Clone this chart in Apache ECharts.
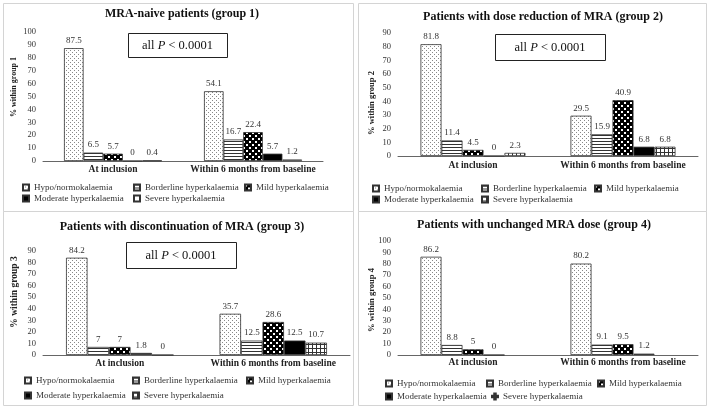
<!DOCTYPE html>
<html><head><meta charset="utf-8">
<script src="https://cdn.jsdelivr.net/npm/echarts@6/dist/echarts.min.js"></script>
<style>html,body{margin:0;padding:0;background:#fff}#c{width:709px;height:408px}</style>
</head><body><div id="c"></div>
<script>
// ---- data ----
const categories = ['At inclusion', 'Within 6 months from baseline'];
const seriesNames = ['Hypo/normokalaemia', 'Borderline hyperkalaemia', 'Mild hyperkalaemia', 'Moderate hyperkalaemia', 'Severe hyperkalaemia'];
const panelTitles = ['MRA-naive patients (group 1)', 'Patients with dose reduction of MRA (group 2)', 'Patients with discontinuation of MRA (group 3)', 'Patients with unchanged MRA dose (group 4)'];
const yAxisNames = ['% within group 1', '% within group 2', '% within group 3', '% within group 4'];
const yMax = [100, 90, 90, 100];
const pValueText = 'all P < 0.0001';

const group1AtInclusion = [87.5, 6.5, 5.7, 0, 0.4];
const group1Within6Months = [54.1, 16.7, 22.4, 5.7, 1.2];
const group2AtInclusion = [81.8, 11.4, 4.5, 0, 2.3];
const group2Within6Months = [29.5, 15.9, 40.9, 6.8, 6.8];
const group3AtInclusion = [84.2, 7, 7, 1.8, 0];
const group3Within6Months = [35.7, 12.5, 28.6, 12.5, 10.7];
const group4AtInclusion = [86.2, 8.8, 5, 0, null];
const group4Within6Months = [80.2, 9.1, 9.5, 1.2, null];

const groupAtInclusion = [group1AtInclusion, group2AtInclusion, group3AtInclusion, group4AtInclusion];
const groupWithin = [group1Within6Months, group2Within6Months, group3Within6Months, group4Within6Months];

// ---- styles / layout ----
const FONT = "'Liberation Serif', 'Times New Roman', serif";
function pat(w, h, draw) {
  const c = document.createElement('canvas'); c.width = w; c.height = h;
  const x = c.getContext('2d'); draw(x); return { image: c, repeat: 'repeat' };
}
const hypoFill = pat(4, 4, x => { x.fillStyle = '#fff'; x.fillRect(0,0,4,4); x.fillStyle = '#888'; x.fillRect(0,0,1,1); x.fillRect(2,2,1,1); });
const borderFill = pat(4, 3, x => { x.fillStyle = '#fff'; x.fillRect(0,0,4,3); x.fillStyle = '#333'; x.fillRect(0,0,4,1); });
const mildFill = pat(6, 6, x => { x.fillStyle = '#000'; x.fillRect(0,0,6,6); x.fillStyle = '#fff'; x.fillRect(0,0,2,2); x.fillRect(3,3,2,2); });
const gridFill = pat(4, 4, x => { x.fillStyle = '#fff'; x.fillRect(0,0,4,4); x.fillStyle = '#333'; x.fillRect(0,0,4,1); x.fillRect(0,0,1,4); });
const fills = [
  [hypoFill, borderFill, mildFill, '#000', '#fff'],
  [hypoFill, borderFill, mildFill, '#000', gridFill],
  [hypoFill, borderFill, mildFill, '#000', gridFill],
  [hypoFill, borderFill, mildFill, '#000', '#555']
];
const layout = [
  { grid: {left: 43, right: 386, top: 32, bottom: 247}, titleX: 182, titleY: 14, yName: [14, 87, 8], lblMargin: 4, pbox: [128, 33, 99, 24],
    cols: [22, 133, 244], cols2: [22, 133], rows: [189, 200], frame: [3, 3, 350, 208] },
  { grid: {left: 398, right: 11, top: 33, bottom: 252}, titleX: 543, titleY: 17, yName: [372, 103, 8.5], lblMargin: 5, pbox: [495, 34, 110, 26],
    cols: [372, 481, 594], cols2: [372, 481], rows: [190, 201], frame: [358, 3, 348, 208] },
  { grid: {left: 43, right: 359, top: 251, bottom: 53}, titleX: 182, titleY: 227, yName: [15, 292, 9.5], lblMargin: 4, pbox: [126, 242, 110, 26],
    cols: [24, 132, 246], cols2: [24, 132], rows: [382, 397], frame: [3, 211, 350, 194] },
  { grid: {left: 398, right: 11, top: 241, bottom: 53}, titleX: 534, titleY: 225, yName: [372, 300, 8.5], lblMargin: 3, pbox: null,
    cols: [385, 486, 597], cols2: [385, 491], rows: [385, 398], frame: [358, 211, 348, 194] }
];

const grids = [], xAxes = [], yAxes = [], series = [], legends = [], graphics = [];
layout.forEach((L, p) => {
  grids.push(L.grid);
  xAxes.push({
    type: 'category', gridIndex: p, data: categories,
    axisLine: { lineStyle: { color: '#666', width: 1 } }, axisTick: { show: false },
    axisLabel: { interval: 0, fontFamily: FONT, fontSize: 9.5, fontWeight: 'bold', color: '#222', margin: L.lblMargin }
  });
  yAxes.push({
    type: 'value', gridIndex: p, min: 0, max: yMax[p], interval: 10,
    axisLine: { show: false }, axisTick: { show: false }, splitLine: { show: false },
    axisLabel: { fontFamily: FONT, fontSize: 8.5, color: '#333', margin: 7 }
  });
  seriesNames.forEach((nm, k) => {
    const uname = (p + 1) + '|' + nm;
    series.push({
      type: 'bar', name: uname, xAxisIndex: p, yAxisIndex: p,
      data: [groupAtInclusion[p][k], groupWithin[p][k]],
      barGap: '0%', barCategoryGap: '30%',
      itemStyle: { color: fills[p][k], borderColor: '#333', borderWidth: 0.8 },
      label: { show: true, position: 'top', distance: 3, fontFamily: FONT, fontSize: 9, color: '#333' }
    });
    const left = k < 3 ? L.cols[k] : L.cols2[k - 3];
    const row = k < 3 ? 0 : 1;
    const item = { name: uname };
    if (p === 3 && k === 4) item.icon = 'path://M3,0h2v3h3v2h-3v3h-2v-3h-3v-2h3z';
    legends.push({
      data: [item], left: left, top: L.rows[row] - 6, itemWidth: 6, itemHeight: 6,
      padding: 0, itemGap: 0, selectedMode: false, icon: 'rect',
      formatter: n => n.split('|')[1],
      textStyle: { fontFamily: FONT, fontSize: 9, color: '#333' }
    });
  });
  graphics.push({ type: 'rect', silent: true, shape: { x: L.frame[0] + 0.5, y: L.frame[1] + 0.5, width: L.frame[2], height: L.frame[3] }, style: { fill: 'none', stroke: '#d4d4d4', lineWidth: 1 } });
  graphics.push({ type: 'text', silent: true, x: L.titleX, y: L.titleY, style: { text: panelTitles[p], font: 'bold 12px ' + FONT, fill: '#111', align: 'center', verticalAlign: 'middle' } });
  graphics.push({ type: 'text', silent: true, x: L.yName[0], y: L.yName[1], rotation: Math.PI / 2,
    style: { text: yAxisNames[p], font: 'bold ' + L.yName[2] + 'px ' + FONT, fill: '#222', align: 'center', verticalAlign: 'middle' } });
  if (L.pbox) {
    const b = L.pbox;
    graphics.push({ type: 'rect', silent: true, shape: { x: b[0] + 0.5, y: b[1] + 0.5, width: b[2], height: b[3] }, style: { fill: '#fff', stroke: '#222', lineWidth: 1 } });
    const parts = pValueText.split('P');
    graphics.push({ type: 'text', silent: true, x: b[0] + b[2] / 2, y: b[1] + b[3] / 2 + 1,
      style: { text: '{a|' + parts[0] + '}{i|P}{a|' + parts[1] + '}', align: 'center', verticalAlign: 'middle',
        rich: { a: { fontFamily: FONT, fontSize: 12.5, fill: '#111' }, i: { fontFamily: FONT, fontSize: 12.5, fontStyle: 'italic', fill: '#111' } } } });
  }
});

const chart = echarts.init(document.getElementById('c'), null, { renderer: 'canvas' });
chart.setOption({
  backgroundColor: '#fff', animation: false,
  grid: grids, xAxis: xAxes, yAxis: yAxes, series: series, legend: legends, graphic: graphics
});
</script></body></html>
